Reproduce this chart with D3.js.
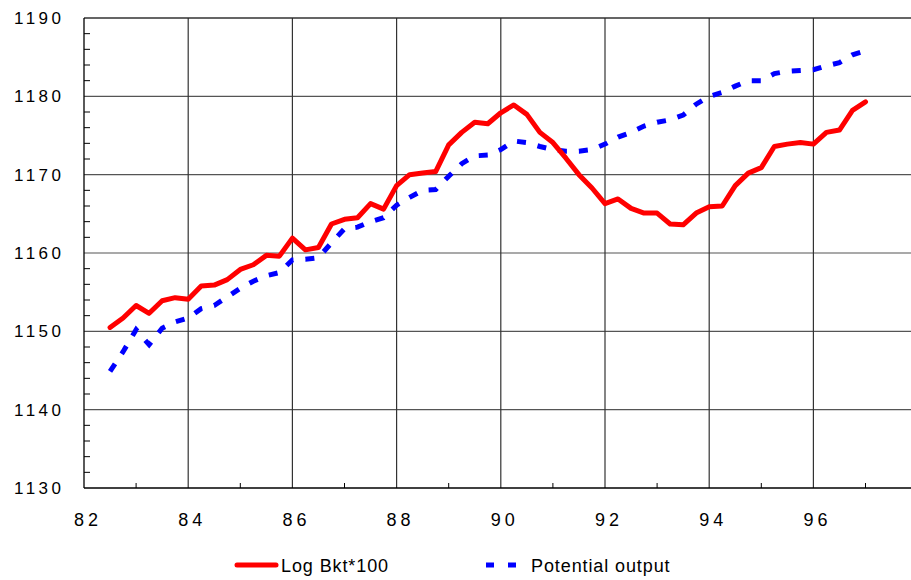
<!DOCTYPE html>
<html>
<head>
<meta charset="utf-8">
<script src="https://cdn.jsdelivr.net/npm/d3@7/dist/d3.min.js"></script>
<style>
  html, body { margin: 0; padding: 0; background: #fff; }
  svg { display: block; }
  text { font-family: "Liberation Sans", Arial, sans-serif; fill: #000; }
</style>
</head>
<body>
<svg id="chart" width="911" height="580"></svg>
<script>
// ---- data ----
const quarters = [82.5, 82.75, 83, 83.25, 83.5, 83.75, 84, 84.25, 84.5, 84.75,
  85, 85.25, 85.5, 85.75, 86, 86.25, 86.5, 86.75, 87, 87.25, 87.5, 87.75,
  88, 88.25, 88.5, 88.75, 89, 89.25, 89.5, 89.75, 90, 90.25, 90.5, 90.75,
  91, 91.25, 91.5, 91.75, 92, 92.25, 92.5, 92.75, 93, 93.25, 93.5, 93.75,
  94, 94.25, 94.5, 94.75, 95, 95.25, 95.5, 95.75, 96, 96.25, 96.5, 96.75, 97];

const logBkt = [1150.5, 1151.7, 1153.3, 1152.3, 1153.9, 1154.3, 1154.1, 1155.8, 1155.9, 1156.6,
  1157.9, 1158.5, 1159.7, 1159.6, 1161.9, 1160.4, 1160.7, 1163.7, 1164.3, 1164.5, 1166.3, 1165.6,
  1168.6, 1170.0, 1170.2, 1170.4, 1173.8, 1175.4, 1176.7, 1176.5, 1177.9, 1178.9, 1177.7, 1175.4,
  1174.1, 1172.1, 1170.0, 1168.3, 1166.3, 1166.9, 1165.7, 1165.1, 1165.1, 1163.7, 1163.6, 1165.1,
  1165.9, 1166.0, 1168.6, 1170.2, 1170.9, 1173.6, 1173.9, 1174.1, 1173.9, 1175.4, 1175.7, 1178.2, 1179.3];

const potential = [1144.9, 1147.4, 1150.2, 1148.3, 1150.4, 1151.2, 1151.7, 1152.9, 1153.3, 1154.4,
  1155.5, 1156.4, 1157.1, 1157.5, 1159.1, 1159.2, 1159.4, 1161.3, 1163.1, 1163.3, 1164.0, 1164.5,
  1166.1, 1167.1, 1168.0, 1168.1, 1169.8, 1171.4, 1172.4, 1172.5, 1173.2, 1174.3, 1174.1, 1173.6,
  1173.2, 1173.0, 1173.0, 1173.2, 1173.9, 1174.8, 1175.4, 1176.2, 1176.7, 1177.0, 1177.6, 1179.0,
  1180.0, 1180.5, 1181.3, 1182.0, 1182.0, 1182.9, 1183.2, 1183.3, 1183.4, 1183.9, 1184.3, 1185.3, 1185.8];

const xTicks = [82, 84, 86, 88, 90, 92, 94, 96];
const xMinor = [83, 85, 87, 89, 91, 93, 95, 97];
const yTicks = [1130, 1140, 1150, 1160, 1170, 1180, 1190];
const yMinor = [1132, 1134, 1136, 1138, 1142, 1144, 1146, 1148, 1152, 1154, 1156, 1158,
  1162, 1164, 1166, 1168, 1172, 1174, 1176, 1178, 1182, 1184, 1186, 1188];
const seriesNames = ["Log Bkt*100", "Potential output"];

(function () {
// ---- layout ----
const svg = d3.select("#chart");
const mLeft = 84, mTop = 18, mBottom = 488, mRight = 911;
const x = d3.scaleLinear().domain([82, 98]).range([mLeft, mLeft + 16 * 52.1]);
const y = d3.scaleLinear().domain([1130, 1190]).range([mBottom, mTop]);

// grid
const grid = svg.append("g");
grid.selectAll("line.h").data(yTicks.filter(d => d > 1130)).join("line")
  .attr("x1", mLeft).attr("x2", mRight)
  .attr("y1", d => y(d)).attr("y2", d => y(d))
  .attr("stroke", "#555").attr("stroke-width", 1.2);
grid.selectAll("line.v").data(xTicks.filter(d => d > 82)).join("line")
  .attr("x1", d => x(d)).attr("x2", d => x(d))
  .attr("y1", mTop).attr("y2", mBottom)
  .attr("stroke", "#333").attr("stroke-width", 1.2);
svg.append("line").attr("x1", mLeft).attr("x2", mRight).attr("y1", mTop).attr("y2", mTop)
  .attr("stroke", "#222").attr("stroke-width", 1.2);

// axes lines
svg.append("line").attr("x1", mLeft).attr("x2", mLeft).attr("y1", mTop).attr("y2", mBottom)
  .attr("stroke", "#000").attr("stroke-width", 1.3);
svg.append("line").attr("x1", mLeft).attr("x2", mRight).attr("y1", mBottom).attr("y2", mBottom)
  .attr("stroke", "#000").attr("stroke-width", 1.3);

// minor ticks
svg.append("g").selectAll("line").data(yMinor).join("line")
  .attr("x1", mLeft).attr("x2", mLeft + 6)
  .attr("y1", d => y(d)).attr("y2", d => y(d))
  .attr("stroke", "#000").attr("stroke-width", 1);
svg.append("g").selectAll("line").data(xMinor).join("line")
  .attr("x1", d => x(d)).attr("x2", d => x(d))
  .attr("y1", mBottom).attr("y2", mBottom - 5)
  .attr("stroke", "#000").attr("stroke-width", 1);

// tick labels
const lsY = 3.5, lsX = 4;
svg.append("g").selectAll("text").data(yTicks).join("text")
  .attr("x", 61 + lsY).attr("y", d => y(d)).attr("dy", "0.36em")
  .attr("text-anchor", "end")
  .style("font-size", "17px").style("letter-spacing", lsY + "px")
  .text(d => d);
svg.append("g").selectAll("text").data(xTicks).join("text")
  .attr("x", d => x(d) + 2 + lsX / 2).attr("y", 526)
  .attr("text-anchor", "middle")
  .style("font-size", "18px").style("letter-spacing", lsX + "px")
  .text(d => d);

// lines
const pts = (vals) => quarters.map((q, i) => [q, vals[i]]);
const line = d3.line().x(d => x(d[0])).y(d => y(d[1]));

svg.append("path").datum(pts(potential))
  .attr("d", line).attr("fill", "none")
  .attr("stroke", "#0000ff").attr("stroke-width", 5)
  .attr("stroke-dasharray", "9,12");

svg.append("path").datum(pts(logBkt))
  .attr("d", line).attr("fill", "none")
  .attr("stroke", "#ff0000").attr("stroke-width", 5)
  .attr("stroke-linejoin", "round").attr("stroke-linecap", "round");

// legend
const lg = svg.append("g");
lg.append("line").attr("x1", 237).attr("x2", 276).attr("y1", 565).attr("y2", 565)
  .attr("stroke", "#ff0000").attr("stroke-width", 5).attr("stroke-linecap", "round");
lg.append("text").attr("x", 281).attr("y", 572)
  .style("font-size", "18px").style("letter-spacing", "0.9px").text(seriesNames[0]);
lg.append("line").attr("x1", 486).attr("x2", 516).attr("y1", 565).attr("y2", 565)
  .attr("stroke", "#0000ff").attr("stroke-width", 5).attr("stroke-dasharray", "8,14");
lg.append("text").attr("x", 531).attr("y", 572)
  .style("font-size", "18px").style("letter-spacing", "0.9px").text(seriesNames[1]);
})();
</script>
</body>
</html>
